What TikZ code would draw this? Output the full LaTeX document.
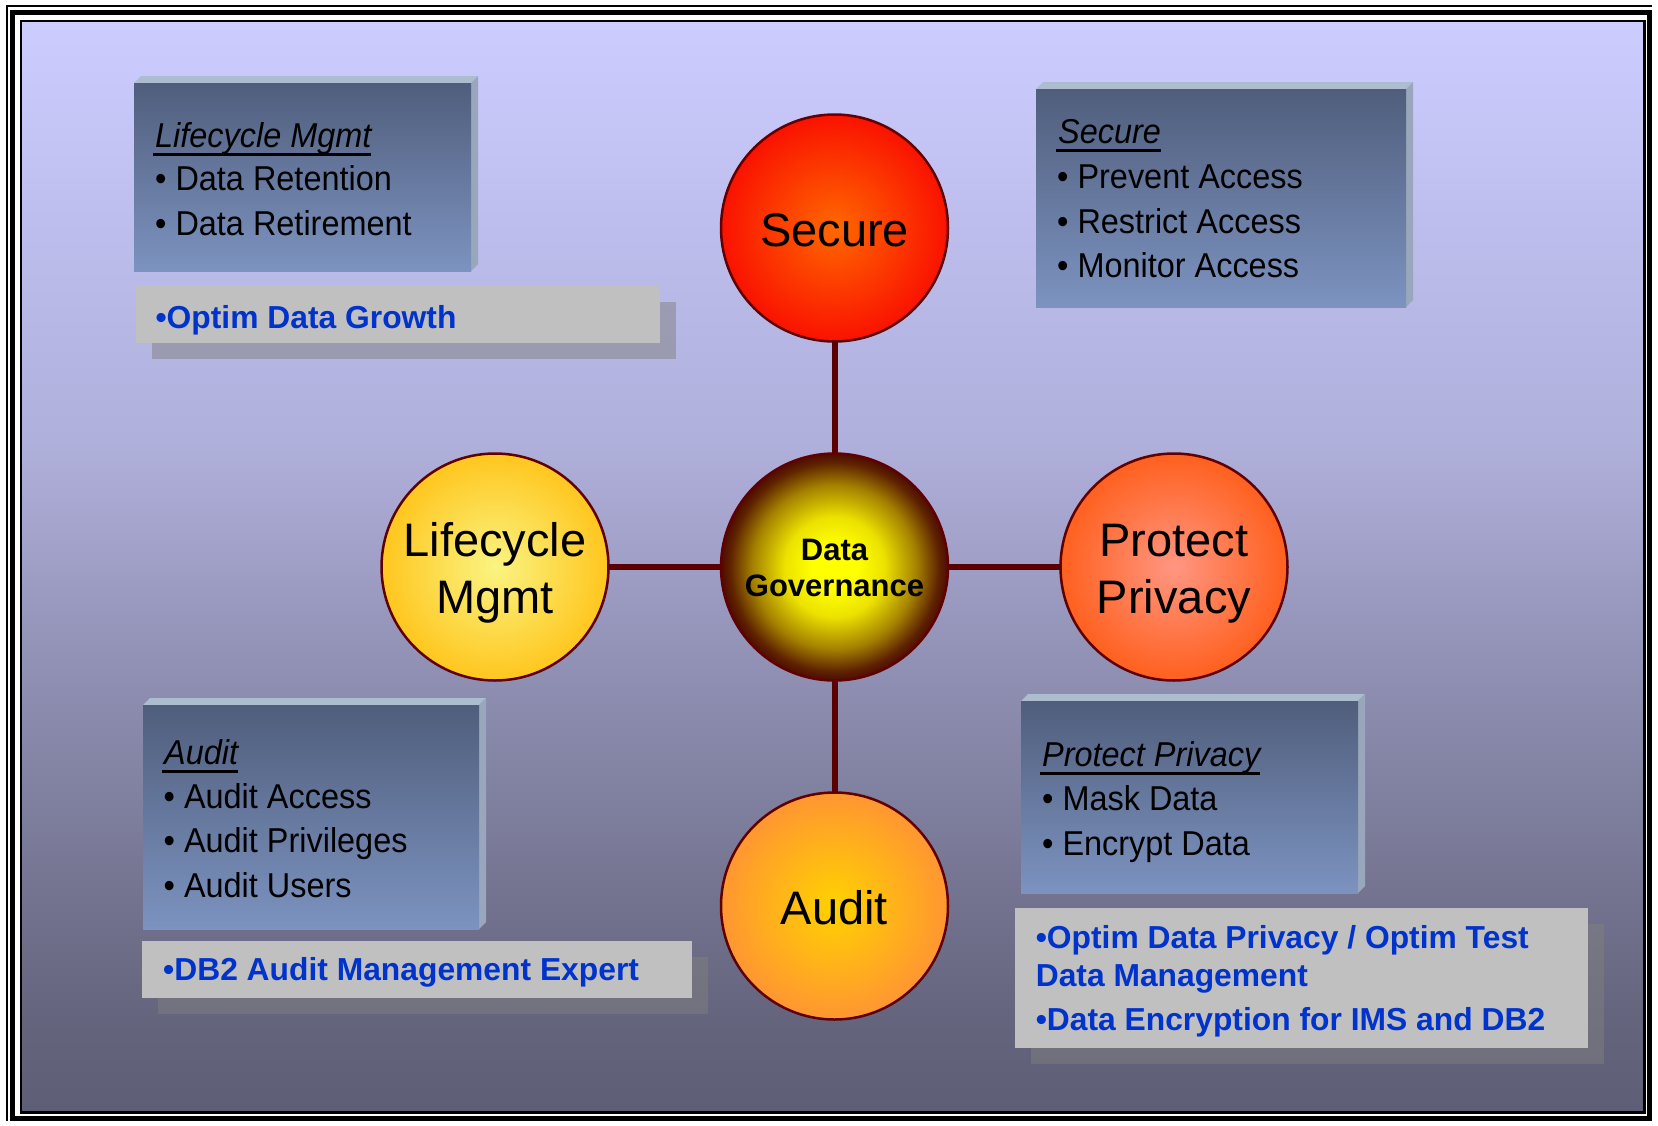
\documentclass[tikz,border=0pt]{standalone}
\usepackage{fontspec}
\setmainfont{Liberation Sans}
\newfontfamily\narrowfont[FakeStretch=0.94]{Liberation Sans}
\definecolor{bga}{RGB}{204,204,255}
\definecolor{bgb}{RGB}{190,190,238}
\definecolor{bgc}{RGB}{176,176,220}
\definecolor{bgd}{RGB}{140,140,175}
\definecolor{bge}{RGB}{100,100,125}
\definecolor{bgf}{RGB}{94,94,118}
\pgfdeclareverticalshading{bgshade}{100bp}{color(0bp)=(bgf); color(25bp)=(bgf); color(29.2bp)=(bge); color(43.9bp)=(bgd); color(55.8bp)=(bgc); color(66bp)=(bgb); color(75bp)=(bga); color(100bp)=(bga)}
\definecolor{dga}{RGB}{255,255,0}
\definecolor{dgb}{RGB}{236,226,0}
\definecolor{dgc}{RGB}{165,130,0}
\definecolor{dgd}{RGB}{95,35,0}
\definecolor{dge}{RGB}{78,12,0}
\pgfdeclareradialshading{dgshade}{\pgfpoint{0bp}{0bp}}{color(0bp)=(dga); color(5bp)=(dga); color(11bp)=(dgb); color(18bp)=(dgc); color(23bp)=(dgd); color(25bp)=(dge); color(50bp)=(dge)}
\definecolor{boxtop}{RGB}{80,94,124}
\definecolor{boxbot}{RGB}{124,147,192}
\definecolor{beveltop}{RGB}{172,189,208}
\definecolor{bevelright}{RGB}{152,167,187}
\definecolor{grayface}{RGB}{192,192,192}
\definecolor{shadowc}{RGB}{128,128,128}
\definecolor{bluetxt}{RGB}{0,51,204}
\definecolor{rimc}{RGB}{96,0,0}
\definecolor{connc}{RGB}{90,0,0}
\newcommand\bevbox[4]{%
  \fill[beveltop] (#1,#2) -- (#1+7,#2-7) -- (#3+7,#2-7) -- (#3,#2) -- cycle;
  \fill[bevelright] (#3,#2) -- (#3+7,#2-7) -- (#3+7,#4-7) -- (#3,#4) -- cycle;
  \shade[top color=boxtop,bottom color=boxbot] (#1,#2) rectangle (#3,#4);}
\newcommand\grayprod[4]{%
  \fill[shadowc,opacity=0.5] (#1+16,#2+16) rectangle (#3+16,#4+16);
  \fill[grayface] (#1,#2) rectangle (#3,#4);}
\newcommand\ulhead[1]{\setbox0\hbox{#1}\rlap{\kern-2pt\rule[-8.5pt]{\dimexpr\wd0+2pt\relax}{3pt}}\box0}
\begin{document}
\begin{tikzpicture}[x=1pt,y=-1pt,
  bubble/.style={circle, draw=rimc, line width=2.5pt, minimum size=227pt, inner sep=0pt, outer sep=0pt},
  bigtxt/.style={inner sep=0pt, anchor=base, font=\fontsize{47}{56}\selectfont},
  dgtxt/.style={inner sep=0pt, anchor=base, font=\fontsize{31}{37}\selectfont\bfseries},
  itemtxt/.style={inner sep=0pt, anchor=base west, font=\narrowfont\fontsize{34.5}{44}\selectfont},
  headtxt/.style={itemtxt, font=\narrowfont\itshape\fontsize{34.5}{44}\selectfont},
  prodtxt/.style={inner sep=0pt, anchor=base west, text=bluetxt, font=\fontsize{31.8}{38}\selectfont\bfseries},
  connector/.style={draw=connc, line width=6pt}]
\useasboundingbox (0,0) rectangle (1658,1125);
\fill[white] (0,0) rectangle (1658,1125);
% background and frame
\shade[shading=bgshade] (22,22) rectangle (1643,1111);
\draw[line width=2.5pt] (20.75,20.75) rectangle (1644.25,1112.25);
\draw[line width=5pt] (12.5,12.5) rectangle (1649.5,1118.5);
\draw[line width=2pt] (7,1121) -- (7,6) -- (1652,6);
% information boxes
\bevbox{134}{83}{471}{271}
\bevbox{1036}{89}{1406}{307}
\bevbox{143}{705}{479}{929}
\bevbox{1021}{701}{1358}{893}
% product boxes
\grayprod{135.5}{286}{660}{343}
\grayprod{141.7}{941}{691.5}{998}
\grayprod{1015}{908}{1588}{1048}
% circles
\node[bubble, inner color={rgb,255:red,255;green,104;blue,0}, outer color={rgb,255:red,250;green,18;blue,0}] (sec) at (834.5,228) {};
\node[bubble, shading=dgshade] (dg) at (834.5,567) {};
\node[bubble, inner color={rgb,255:red,250;green,244;blue,130}, outer color={rgb,255:red,255;green,198;blue,30}] (lif) at (495,567) {};
\node[bubble, inner color={rgb,255:red,255;green,150;blue,130}, outer color={rgb,255:red,255;green,96;blue,30}] (pro) at (1174,567) {};
\node[bubble, inner color={rgb,255:red,255;green,210;blue,0}, outer color={rgb,255:red,255;green,150;blue,50}] (aud) at (834.5,906) {};
% connectors
\draw[connector] (sec) -- (dg);
\draw[connector] (dg) -- (aud);
\draw[connector] (lif) -- (dg);
\draw[connector] (dg) -- (pro);
% circle labels
\node[bigtxt] (sec-t) at (834.5,246.5) {Secure};
\node[bigtxt] (lif-t1) at (495,556.5) {Lifecycle};
\node[bigtxt] (lif-t2) at (495,613) {Mgmt};
\node[bigtxt] (pro-t1) at (1174,556.5) {Protect};
\node[bigtxt] (pro-t2) at (1174,613) {Privacy};
\node[bigtxt] (aud-t) at (834.5,924) {Audit};
\node[dgtxt] (dg-t1) at (834.5,560) {Data};
\node[dgtxt] (dg-t2) at (834.5,596.7) {Governance};
% lifecycle box
\node[headtxt] (lb-h) at (155,147.5) {\ulhead{Lifecycle Mgmt}};
\node[itemtxt] (lb-1) at (155,190) {• Data Retention};
\node[itemtxt] (lb-2) at (155,235.5) {• Data Retirement};
% secure box
\node[headtxt] (sb-h) at (1058,143.5) {\ulhead{Secure}};
\node[itemtxt] (sb-1) at (1057,188.3) {• Prevent Access};
\node[itemtxt] (sb-2) at (1057,233) {• Restrict Access};
\node[itemtxt] (sb-3) at (1057,277) {• Monitor Access};
% audit box
\node[headtxt] (ab-h) at (164,764) {\ulhead{Audit}};
\node[itemtxt] (ab-1) at (163.5,808.3) {• Audit Access};
\node[itemtxt] (ab-2) at (163.5,852.7) {• Audit Privileges};
\node[itemtxt] (ab-3) at (163.5,897.3) {• Audit Users};
% protect box
\node[headtxt] (pb-h) at (1042,766) {\ulhead{Protect Privacy}};
\node[itemtxt] (pb-1) at (1042,810) {• Mask Data};
\node[itemtxt] (pb-2) at (1042,855) {• Encrypt Data};
% product texts
\node[prodtxt] (gp-1) at (155.4,328.3) {•Optim Data Growth};
\node[prodtxt] (ap-1) at (163,980) {•DB2 Audit Management Expert};
\node[prodtxt] (pp-1) at (1035.6,948.3) {•Optim Data Privacy / Optim Test};
\node[prodtxt] (pp-2) at (1035.6,986.7) {Data Management};
\node[prodtxt] (pp-3) at (1035.6,1030) {•Data Encryption for IMS and DB2};
\end{tikzpicture}
\end{document}
